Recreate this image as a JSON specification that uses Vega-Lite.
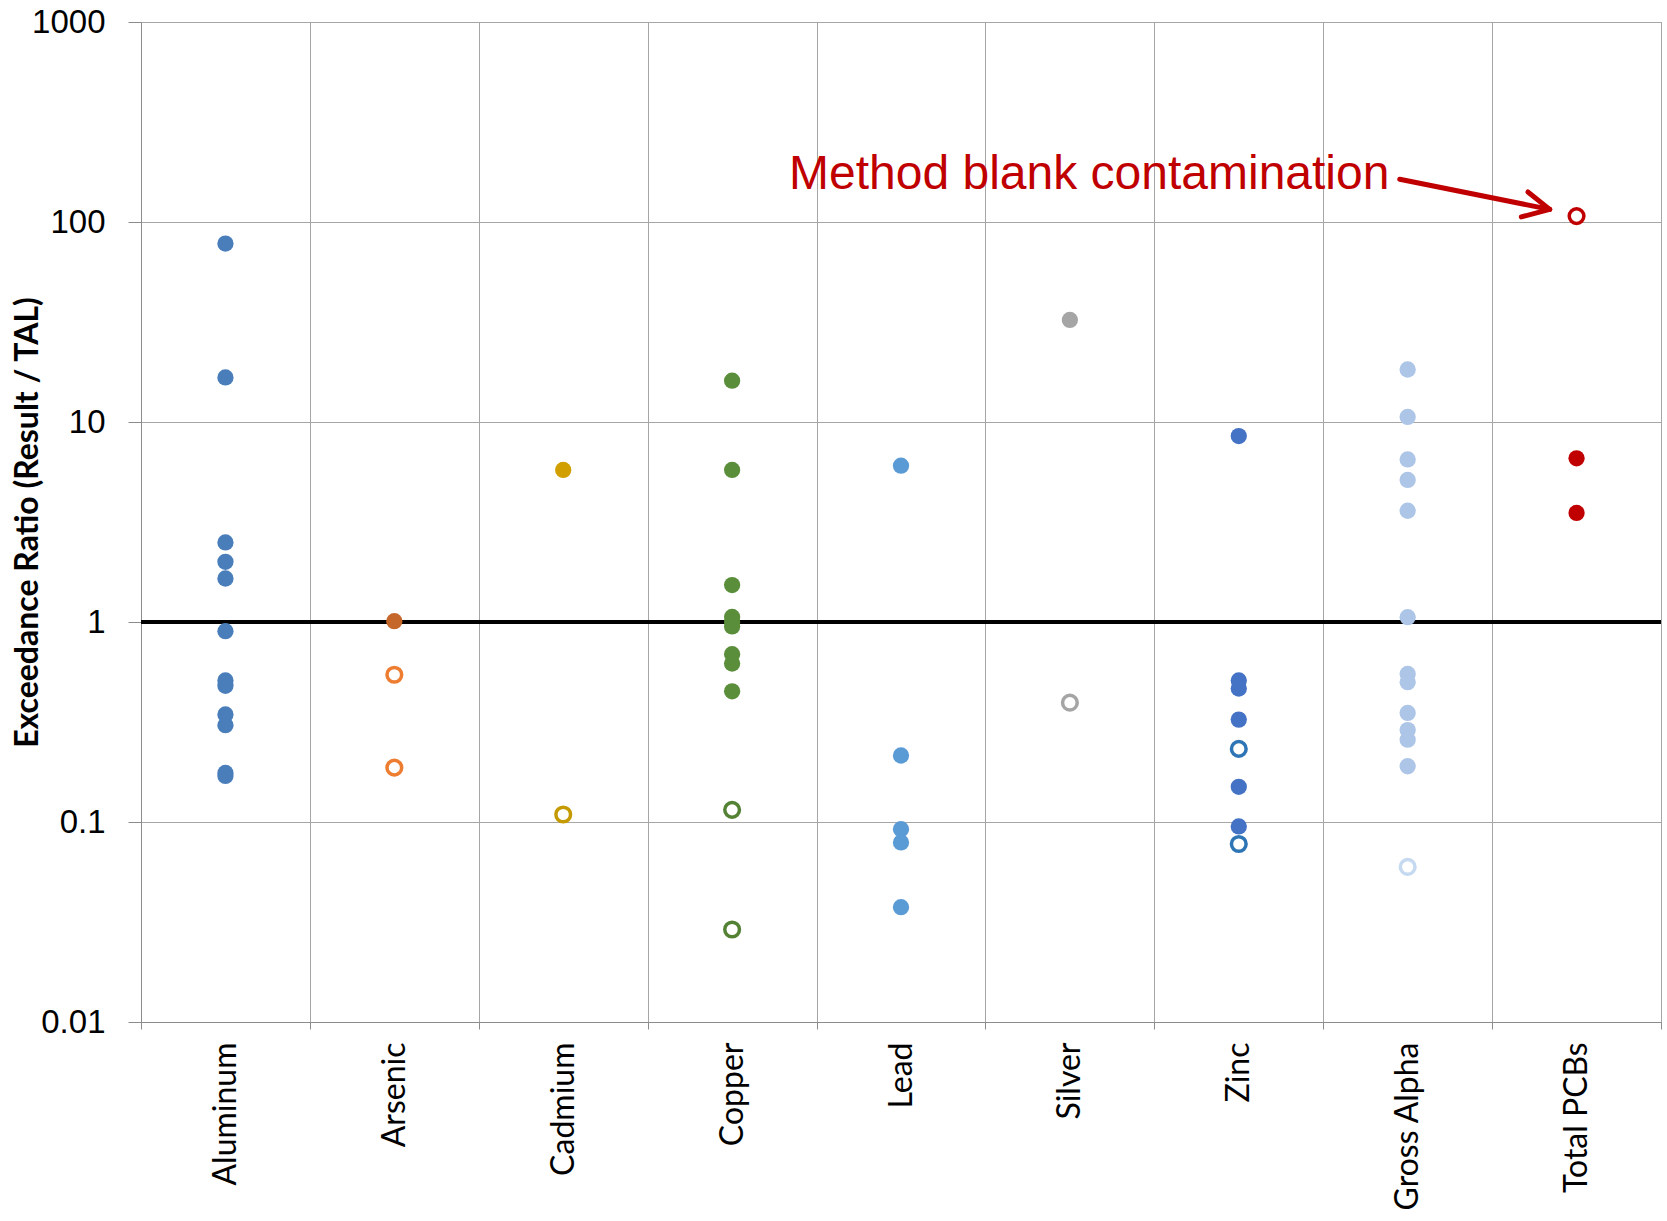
{
  "$schema": "https://vega.github.io/schema/vega-lite/v6.json",
  "width": 1520,
  "height": 1000,
  "autosize": {"type": "none"},
  "padding": {"left": 141, "top": 22, "right": 6, "bottom": 199},
  "background": "white",
  "config": {
    "view": {"stroke": "#8c8c8c", "strokeWidth": 1}
  },
  "datasets": {
    "samples": [
      {"analyte": "Aluminum", "ratio": 78, "status": "Detected"},
      {"analyte": "Aluminum", "ratio": 16.7, "status": "Detected"},
      {"analyte": "Aluminum", "ratio": 2.5, "status": "Detected"},
      {"analyte": "Aluminum", "ratio": 2.0, "status": "Detected"},
      {"analyte": "Aluminum", "ratio": 1.65, "status": "Detected"},
      {"analyte": "Aluminum", "ratio": 0.9, "status": "Detected"},
      {"analyte": "Aluminum", "ratio": 0.51, "status": "Detected"},
      {"analyte": "Aluminum", "ratio": 0.48, "status": "Detected"},
      {"analyte": "Aluminum", "ratio": 0.345, "status": "Detected"},
      {"analyte": "Aluminum", "ratio": 0.305, "status": "Detected"},
      {"analyte": "Aluminum", "ratio": 0.176, "status": "Detected"},
      {"analyte": "Aluminum", "ratio": 0.17, "status": "Detected"},
      {"analyte": "Arsenic", "ratio": 1.01, "status": "Detected"},
      {"analyte": "Arsenic", "ratio": 0.545, "status": "Non-detect"},
      {"analyte": "Arsenic", "ratio": 0.187, "status": "Non-detect"},
      {"analyte": "Cadmium", "ratio": 5.76, "status": "Detected"},
      {"analyte": "Cadmium", "ratio": 0.109, "status": "Non-detect"},
      {"analyte": "Copper", "ratio": 16.1, "status": "Detected"},
      {"analyte": "Copper", "ratio": 5.76, "status": "Detected"},
      {"analyte": "Copper", "ratio": 1.53, "status": "Detected"},
      {"analyte": "Copper", "ratio": 1.06, "status": "Detected"},
      {"analyte": "Copper", "ratio": 1.0, "status": "Detected"},
      {"analyte": "Copper", "ratio": 0.95, "status": "Detected"},
      {"analyte": "Copper", "ratio": 0.69, "status": "Detected"},
      {"analyte": "Copper", "ratio": 0.62, "status": "Detected"},
      {"analyte": "Copper", "ratio": 0.45, "status": "Detected"},
      {"analyte": "Copper", "ratio": 0.115, "status": "Non-detect"},
      {"analyte": "Copper", "ratio": 0.029, "status": "Non-detect"},
      {"analyte": "Lead", "ratio": 6.05, "status": "Detected"},
      {"analyte": "Lead", "ratio": 0.215, "status": "Detected"},
      {"analyte": "Lead", "ratio": 0.092, "status": "Detected"},
      {"analyte": "Lead", "ratio": 0.079, "status": "Detected"},
      {"analyte": "Lead", "ratio": 0.0375, "status": "Detected"},
      {"analyte": "Silver", "ratio": 32.4, "status": "Detected"},
      {"analyte": "Silver", "ratio": 0.395, "status": "Non-detect"},
      {"analyte": "Zinc", "ratio": 8.5, "status": "Detected"},
      {"analyte": "Zinc", "ratio": 0.51, "status": "Detected"},
      {"analyte": "Zinc", "ratio": 0.465, "status": "Detected"},
      {"analyte": "Zinc", "ratio": 0.325, "status": "Detected"},
      {"analyte": "Zinc", "ratio": 0.15, "status": "Detected"},
      {"analyte": "Zinc", "ratio": 0.095, "status": "Detected"},
      {"analyte": "Zinc", "ratio": 0.232, "status": "Non-detect"},
      {"analyte": "Zinc", "ratio": 0.0776, "status": "Non-detect"},
      {"analyte": "Gross Alpha", "ratio": 18.3, "status": "Detected"},
      {"analyte": "Gross Alpha", "ratio": 10.6, "status": "Detected"},
      {"analyte": "Gross Alpha", "ratio": 6.5, "status": "Detected"},
      {"analyte": "Gross Alpha", "ratio": 5.13, "status": "Detected"},
      {"analyte": "Gross Alpha", "ratio": 3.6, "status": "Detected"},
      {"analyte": "Gross Alpha", "ratio": 1.057, "status": "Detected"},
      {"analyte": "Gross Alpha", "ratio": 0.55, "status": "Detected"},
      {"analyte": "Gross Alpha", "ratio": 0.5, "status": "Detected"},
      {"analyte": "Gross Alpha", "ratio": 0.351, "status": "Detected"},
      {"analyte": "Gross Alpha", "ratio": 0.288, "status": "Detected"},
      {"analyte": "Gross Alpha", "ratio": 0.258, "status": "Detected"},
      {"analyte": "Gross Alpha", "ratio": 0.19, "status": "Detected"},
      {"analyte": "Gross Alpha", "ratio": 0.0596, "status": "Non-detect"},
      {"analyte": "Total PCBs", "ratio": 6.58, "status": "Detected"},
      {"analyte": "Total PCBs", "ratio": 3.51, "status": "Detected"},
      {"analyte": "Total PCBs", "ratio": 107, "status": "Non-detect"}
    ],
    "threshold": [{"ratio": 1}],
    "arrow": [
      {"part": "shaft", "pos": 7.453, "ratio": 163.5, "pos2": 8.341, "ratio2": 115.7},
      {"part": "upper", "pos": 8.212, "ratio": 141.3, "pos2": 8.341, "ratio2": 115.7},
      {"part": "lower", "pos": 8.173, "ratio": 106.0, "pos2": 8.341, "ratio2": 115.7}
    ],
    "note": [{"label": "Method blank contamination", "pos": 7.392, "ratio": 145.8}]
  },
  "encoding": {
    "y": {
      "field": "ratio", "type": "quantitative",
      "scale": {"type": "log", "domain": [0.01, 1000], "nice": false},
      "axis": {
        "title": "Exceedance Ratio (Result / TAL)", "values": [0.01, 0.1, 1, 10, 100, 1000], "format": "~g",
        "grid": true, "gridColor": "#a6a6a6", "gridWidth": 1, "domainColor": "#8c8c8c", "tickColor": "#8c8c8c",
        "tickSize": 13, "labelPadding": 23, "labelFont": "Liberation Sans", "labelFontSize": 33, "labelColor": "black",
        "titleFont": "Lato", "titleFontSize": 32, "titleFontWeight": "bold", "titleColor": "black",
        "titleX": -114, "titleY": 500, "titleBaseline": "middle", "titleAngle": 270, "titleAlign": "center"
      }
    }
  },
  "layer": [
    {
      "data": {"name": "threshold"},
      "mark": {"type": "rule", "color": "black", "strokeWidth": 4},
      "encoding": {}
    },
    {
      "data": {"name": "samples"},
      "transform": [{"filter": "datum.status === 'Detected'"}],
      "mark": {"type": "point", "shape": "circle", "filled": true, "opacity": 1, "size": 265},
      "encoding": {
        "x": {
          "field": "analyte", "type": "nominal",
          "scale": {"domain": ["Aluminum", "Arsenic", "Cadmium", "Copper", "Lead", "Silver", "Zinc", "Gross Alpha", "Total PCBs"], "paddingInner": 0, "paddingOuter": 0},
          "axis": {
            "title": null, "tickBand": "extent", "grid": true, "gridColor": "#a6a6a6", "gridWidth": 1,
            "domainColor": "#8c8c8c", "tickColor": "#8c8c8c", "tickSize": 7,
            "labelAngle": -90, "labelPadding": 13, "labelFont": "Lato", "labelFontSize": 32, "labelColor": "black"
          }
        },
        "fill": {
          "field": "analyte", "type": "nominal", "legend": null,
          "scale": {
            "domain": ["Aluminum", "Arsenic", "Cadmium", "Copper", "Lead", "Silver", "Zinc", "Gross Alpha", "Total PCBs"],
            "range": ["#4a7ebb", "#c5662a", "#d1a000", "#5a8e3a", "#5b9bd5", "#a5a5a5", "#4472c4", "#adc5e7", "#c00000"]
          }
        }
      }
    },
    {
      "data": {"name": "samples"},
      "transform": [{"filter": "datum.status === 'Non-detect'"}],
      "mark": {"type": "point", "shape": "circle", "filled": false, "opacity": 1, "size": 215, "strokeWidth": 3.5, "fill": "white", "fillOpacity": 0},
      "encoding": {
        "x": {
          "field": "analyte", "type": "nominal",
          "scale": {"domain": ["Aluminum", "Arsenic", "Cadmium", "Copper", "Lead", "Silver", "Zinc", "Gross Alpha", "Total PCBs"], "paddingInner": 0, "paddingOuter": 0},
          "axis": null
        },
        "stroke": {
          "field": "analyte", "type": "nominal", "legend": null,
          "scale": {
            "domain": ["Aluminum", "Arsenic", "Cadmium", "Copper", "Lead", "Silver", "Zinc", "Gross Alpha", "Total PCBs"],
            "range": ["#4a7ebb", "#ed7d31", "#c49a00", "#548235", "#5b9bd5", "#a5a5a5", "#2e75b6", "#c5d9f0", "#c00000"]
          }
        }
      }
    },
    {
      "data": {"name": "arrow"},
      "mark": {"type": "rule", "color": "#c00000", "strokeWidth": 5, "strokeCap": "round"},
      "encoding": {
        "x": {"field": "pos", "type": "quantitative", "scale": {"domain": [0, 9], "nice": false, "zero": false}, "axis": null},
        "x2": {"field": "pos2"},
        "y2": {"field": "ratio2"}
      }
    },
    {
      "data": {"name": "note"},
      "mark": {"type": "text", "align": "right", "baseline": "alphabetic", "font": "Liberation Sans", "fontSize": 48, "color": "#c00000"},
      "encoding": {
        "x": {"field": "pos", "type": "quantitative", "scale": {"domain": [0, 9], "nice": false, "zero": false}, "axis": null},
        "text": {"field": "label"}
      }
    }
  ],
  "resolve": {"scale": {"x": "independent"}}
}
